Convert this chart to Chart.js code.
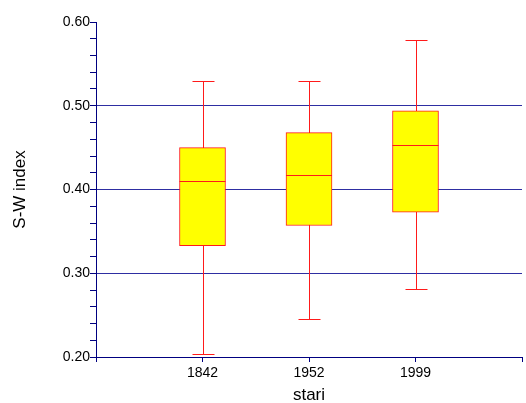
<!DOCTYPE html>
<html>
<head>
<meta charset="utf-8">
<script src="https://cdn.jsdelivr.net/npm/chart.js@4/dist/chart.umd.min.js"></script>
<style>
html,body{margin:0;padding:0;background:#fff;}
canvas{display:block;}
</style>
</head>
<body>
<canvas id="c" width="526" height="403"></canvas>
<script>
const categories = ['1842', '1952', '1999'];
const whiskerLow = [0.203, 0.245, 0.281];
const q1 = [0.333, 0.357, 0.373];
const median = [0.410, 0.417, 0.453];
const q3 = [0.450, 0.468, 0.494];
const whiskerHigh = [0.529, 0.529, 0.578];
const yMin = 0.20, yMax = 0.60, yStep = 0.02;

const xLabels = [''].concat(categories, ['']);
const boxData = [null].concat(categories.map((c, i) => [q1[i], q3[i]]), [null]);

const NAVY = '#000080';
const GRID = '#2e2ea2';
const RED = '#ff1a1a';
const FONT = "'Liberation Sans', Arial, sans-serif";

const whiskerPlugin = {
  id: 'whiskers',
  beforeDatasetsDraw(chart) {
    const ctx = chart.ctx, xs = chart.scales.x, ys = chart.scales.y;
    ctx.save();
    ctx.strokeStyle = RED;
    ctx.lineWidth = 1;
    categories.forEach((c, i) => {
      const x = Math.round(xs.getPixelForValue(i + 1)) + 0.5;
      const yl = Math.round(ys.getPixelForValue(whiskerLow[i])) + 0.5;
      const yh = Math.round(ys.getPixelForValue(whiskerHigh[i])) + 0.5;
      const capHalf = 11;
      ctx.beginPath();
      ctx.moveTo(x, yl); ctx.lineTo(x, yh);
      ctx.moveTo(x - capHalf, yl); ctx.lineTo(x + capHalf, yl);
      ctx.moveTo(x - capHalf, yh); ctx.lineTo(x + capHalf, yh);
      ctx.stroke();
    });
    ctx.restore();
  },
  afterDatasetsDraw(chart) {
    const ctx = chart.ctx, xs = chart.scales.x, ys = chart.scales.y;
    const meta = chart.getDatasetMeta(0);
    ctx.save();
    ctx.strokeStyle = RED;
    ctx.lineWidth = 1;
    categories.forEach((c, i) => {
      const bar = meta.data[i + 1];
      const half = bar.width / 2;
      const x = xs.getPixelForValue(i + 1);
      const ym = Math.round(ys.getPixelForValue(median[i])) + 0.5;
      ctx.beginPath();
      ctx.moveTo(x - half, ym); ctx.lineTo(x + half, ym);
      ctx.stroke();
    });
    ctx.restore();
  }
};

const isMajor = v => Math.round(v * 100) % 10 === 0;

new Chart(document.getElementById('c'), {
  type: 'bar',
  data: {
    labels: xLabels,
    datasets: [{
      data: boxData,
      backgroundColor: '#ffff00',
      borderColor: RED,
      borderWidth: 1,
      borderSkipped: false,
      barThickness: 46
    }]
  },
  options: {
    responsive: false,
    animation: false,
    devicePixelRatio: 1,
    layout: { padding: { top: 22, right: 4, left: 0, bottom: 0 } },
    plugins: { legend: { display: false }, tooltip: { enabled: false } },
    scales: {
      x: {
        type: 'category',
        offset: false,
        grid: { offset: false, drawOnChartArea: false, tickColor: NAVY, tickLength: 5, lineWidth: 1 },
        border: { color: NAVY, width: 1 },
        ticks: { color: '#000', font: { family: FONT, size: 14 }, padding: 3, autoSkip: false, maxRotation: 0 },
        title: { display: true, text: 'stari', color: '#000', font: { family: FONT, size: 17 }, padding: { top: 0, bottom: -3 } },
        afterFit(s) { s.height = 46; }
      },
      y: {
        min: yMin, max: yMax,
        grid: {
          color: ctx => {
            const v = ctx.tick ? ctx.tick.value : 0;
            const r = Math.round(v * 100);
            return (isMajor(v) && r > 20 && r < 60) ? GRID : 'rgba(0,0,0,0)';
          },
          tickColor: NAVY, tickLength: 6, lineWidth: 1
        },
        border: { color: NAVY, width: 1 },
        ticks: {
          stepSize: yStep, autoSkip: false, maxTicksLimit: 50, padding: 0,
          color: '#000', font: { family: FONT, size: 14 },
          callback: v => isMajor(v) ? v.toFixed(2) : ''
        },
        title: { display: true, text: 'S-W index', color: '#000', font: { family: FONT, size: 17 }, padding: { top: 10, bottom: 0 } },
        afterFit(s) { s.width = 96; }
      }
    }
  },
  plugins: [whiskerPlugin]
});
</script>
</body>
</html>
